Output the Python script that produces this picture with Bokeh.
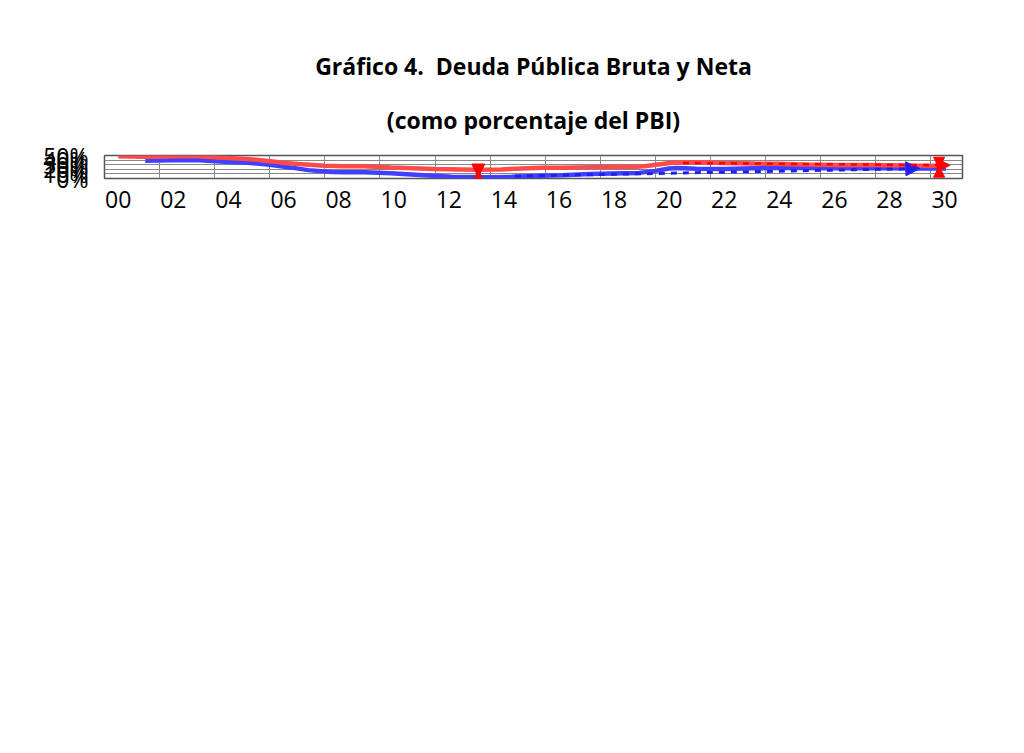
from bokeh.plotting import figure
from bokeh.models import (FixedTicker, Title, Legend, LegendItem, Arrow, NormalHead,
                          CustomJSTickFormatter)
from bokeh.embed import file_html
from bokeh.resources import INLINE

bruta_x = [0.0, 0.93, 2.7, 4.0, 4.7, 5.6, 6.05, 6.55, 7.5, 8.2, 8.95, 9.9, 11.5, 12.95, 13.9, 15.4,
           16.1, 18.3, 18.7, 19.1, 19.6, 20.1, 20.7, 21.2, 21.9, 23.1, 23.9, 24.9, 26.1, 27.3, 28.5, 30.05]
bruta_y = [48.3, 47.4, 49.1, 44.5, 42.6, 37.2, 33.7, 31.4, 27.9, 26.5, 26.8, 24.0, 20.5, 19.2, 19.8, 23.4,
           23.4, 25.3, 25.2, 26.7, 30.6, 34.3, 35.3, 35.3, 33.5, 32.4, 32.1, 30.4, 29.2, 29.2, 28.5, 27.7]
neta_x = [0.98, 1.96, 2.8, 4.0, 4.7, 5.5, 6.3, 6.9, 7.75, 8.2, 8.95, 9.9, 11.1, 12.1, 13.4, 14.3, 15.3,
          16.1, 17.1, 18.3, 18.9, 19.5, 20.0, 20.3, 21.0, 22.0, 23.1, 24.2, 25.8, 27.2, 28.9, 30.05]
neta_y = [38.6, 39.7, 40.2, 36.0, 34.3, 29.8, 23.6, 18.2, 14.3, 13.4, 13.4, 11.2, 7.0, 3.8, 2.7, 3.6, 6.0,
          7.0, 9.7, 11.6, 12.2, 16.6, 21.7, 22.6, 21.3, 20.7, 22.1, 23.5, 22.4, 22.7, 21.7, 21.5]
x_ticks = list(range(0, 31, 2))
x_labels = {t: f"{t:02d}" for t in x_ticks}
y_ticks = [0, 10, 20, 30, 40, 50]
x_grid = [1.5 + 2 * k for k in range(15)]

BLUE = "#4040ff"
RED = "#ff4a4a"
FONT = "Open Sans"

p = figure(width=1000, height=730, x_range=(-0.5, 30.65), y_range=(0, 50),
           output_backend="svg", toolbar_location=None,
           min_border_left=104, min_border_right=38, min_border_top=155, min_border_bottom=145)
p.outline_line_color = "#555555"
p.outline_line_width = 1.5

p.xaxis.ticker = FixedTicker(ticks=x_ticks)
p.xaxis.major_label_overrides = x_labels
p.yaxis.ticker = FixedTicker(ticks=y_ticks)
p.yaxis.formatter = CustomJSTickFormatter(code="return tick + '%';")
for ax in (p.xaxis, p.yaxis):
    ax.axis_line_color = None
    ax.major_tick_line_color = None
    ax.minor_tick_line_color = None
    ax.major_label_text_font = FONT
    ax.major_label_text_font_size = "23px"
    ax.major_label_text_color = "black"
p.xaxis.major_label_standoff = 6
p.yaxis.major_label_standoff = 10
p.xgrid.ticker = FixedTicker(ticks=x_grid)
p.ygrid.ticker = FixedTicker(ticks=y_ticks)
for g in (p.xgrid, p.ygrid):
    g.grid_line_color = "#888888"
    g.grid_line_width = 1

rn = p.line(neta_x, neta_y, line_color=BLUE, line_width=4.5)
rb = p.line(bruta_x, bruta_y, line_color=RED, line_width=4.5)

p.add_layout(Arrow(x_start=14.4, y_start=5.2, x_end=29.1, y_end=21.7, line_color="#2020ee",
                   line_width=3, line_dash="dashed",
                   end=NormalHead(size=14, fill_color="#2020ee", line_color="#2020ee")))
p.add_layout(Arrow(x_start=20.5, y_start=33.8, x_end=30.2, y_end=28.8, line_color="red",
                   line_width=2.5, line_dash="dashed",
                   end=NormalHead(size=13, fill_color="red", line_color="red")))
p.add_layout(Arrow(x_start=13.07, y_start=10.5, x_end=13.07, y_end=18.0, line_color="red",
                   line_width=2.5, line_dash="dashed",
                   end=NormalHead(size=13, fill_color="red", line_color="red")))
p.add_layout(Arrow(x_start=13.07, y_start=10.5, x_end=13.07, y_end=3.3, line_color="red",
                   line_width=2.5, line_dash="dashed",
                   end=NormalHead(size=13, fill_color="red", line_color="red")))
p.add_layout(Arrow(x_start=29.8, y_start=24.6, x_end=29.8, y_end=26.9, line_color="red",
                   line_width=2.5, line_dash="dashed",
                   end=NormalHead(size=11, fill_color="red", line_color="red")))
p.add_layout(Arrow(x_start=29.8, y_start=24.6, x_end=29.8, y_end=22.4, line_color="red",
                   line_width=2.5, line_dash="dashed",
                   end=NormalHead(size=11, fill_color="red", line_color="red")))

legend = Legend(items=[LegendItem(label="Deuda Neta", renderers=[rn]),
                       LegendItem(label="Deuda Bruta", renderers=[rb])],
                orientation="horizontal", location=(145, -40),
                label_text_font=FONT, label_text_font_size="17px",
                glyph_width=55, spacing=20, border_line_color=None,
                background_fill_alpha=0)
p.add_layout(legend, "below")

t2 = Title(text="(como porcentaje del PBI)", align="center", text_font=FONT,
           text_color="black", text_font_size="23px", text_font_style="bold",
           offset=-95, standoff=40)
t1 = Title(text="Gráfico 4.\u00a0\u00a0Deuda Pública Bruta y Neta", align="center", text_font=FONT,
           text_color="black", text_font_size="23px", text_font_style="bold",
           offset=-95, standoff=0)
p.add_layout(t2, "above")
p.add_layout(t1, "above")

open("out.html", "w").write(file_html(p, INLINE))
